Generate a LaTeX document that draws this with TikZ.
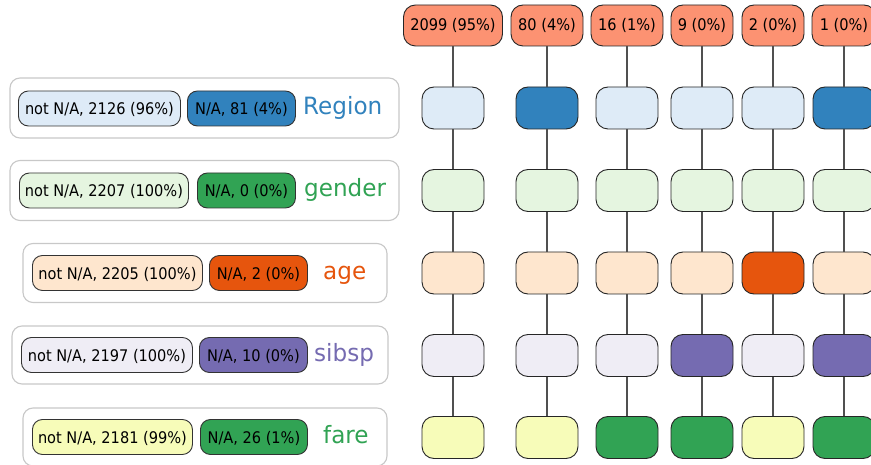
\documentclass[tikz,border=0pt]{standalone}
\usepackage{fontspec}
\setmainfont{DejaVu Sans}[FakeStretch=0.91]
\newfontfamily\labelfont{DejaVu Sans}[FakeStretch=0.97]
\definecolor{regL}{HTML}{DEEBF7}\definecolor{regD}{HTML}{3182BD}
\definecolor{genL}{HTML}{E5F5E0}\definecolor{genD}{HTML}{31A354}
\definecolor{ageL}{HTML}{FEE6CE}\definecolor{ageD}{HTML}{E6550D}
\definecolor{sibL}{HTML}{EFEDF5}\definecolor{sibD}{HTML}{756BB1}
\definecolor{farL}{HTML}{F7FCB9}\definecolor{farD}{HTML}{31A354}
\definecolor{topC}{HTML}{FC9272}
\definecolor{lineC}{HTML}{505050}
\definecolor{outerC}{HTML}{C8C8C8}
\tikzset{
  every node/.style={font=\fontsize{16}{19}\selectfont},
  outerbox/.style={draw=outerC, line width=1.1pt, rounded corners=10pt, fill=white, inner sep=0pt},
  pill/.style={draw=black!80, line width=0.9pt, rounded corners=10pt, minimum height=35pt, inner xsep=1pt, inner ysep=0pt, text height=13pt, text depth=0pt, anchor=west},
  varlabel/.style={font=\labelfont\fontsize{23.8}{28}\selectfont, inner sep=0pt, anchor=base west},
  topnode/.style={draw=black!85, line width=0.9pt, fill=topC, rounded corners=12pt, minimum height=41pt, inner xsep=1pt, inner ysep=0pt, text height=10.4pt, text depth=0pt},
  cellbox/.style={draw=black!85, line width=0.9pt, rounded corners=12pt, minimum width=62pt, minimum height=42pt, inner sep=0pt},
  conn/.style={draw=lineC, line width=1.2pt}
}
\begin{document}
\begin{tikzpicture}[x=1pt,y=-1pt]
\useasboundingbox (0,0) rectangle (871,465);
\clip (0,0) rectangle (871,465);
% ---------- left legend panels ----------
% Region
\node[outerbox, minimum width=389pt, minimum height=60pt] (oReg) at (204.5,108) {};
\node[pill, fill=regL, minimum width=162pt] (pReg1) at (18,108.5) {not N/A, 2126 (96\%)};
\node[pill, fill=regD, minimum width=108pt] (pReg2) at (187,108.5) {N/A, 81 (4\%)};
\node[varlabel, text=regD] (lReg) at (303,115) {Region};
% gender
\node[outerbox, minimum width=389pt, minimum height=60pt] (oGen) at (204.5,190.5) {};
\node[pill, fill=genL, minimum width=169pt] (pGen1) at (19,190.5) {not N/A, 2207 (100\%)};
\node[pill, fill=genD, minimum width=98pt] (pGen2) at (197,190.5) {N/A, 0 (0\%)};
\node[varlabel, text=genD] (lGen) at (304,197) {gender};
% age
\node[outerbox, minimum width=364pt, minimum height=59pt] (oAge) at (205,273) {};
\node[pill, fill=ageL, minimum width=170pt] (pAge1) at (32,273) {not N/A, 2205 (100\%)};
\node[pill, fill=ageD, minimum width=98pt] (pAge2) at (209,273) {N/A, 2 (0\%)};
\node[varlabel, text=ageD] (lAge) at (323,279.5) {age};
% sibsp
\node[outerbox, minimum width=376pt, minimum height=58pt] (oSib) at (200,355) {};
\node[pill, fill=sibL, minimum width=171pt] (pSib1) at (21,355) {not N/A, 2197 (100\%)};
\node[pill, fill=sibD, minimum width=108pt] (pSib2) at (199,355) {N/A, 10 (0\%)};
\node[varlabel, text=sibD] (lSib) at (314,361.5) {sibsp};
% fare
\node[outerbox, minimum width=364pt, minimum height=58pt] (oFar) at (205,437) {};
\node[pill, fill=farL, minimum width=160pt] (pFar1) at (32,437) {not N/A, 2181 (99\%)};
\node[pill, fill=farD, minimum width=107pt] (pFar2) at (200,437) {N/A, 26 (1\%)};
\node[varlabel, text=farD] (lFar) at (323,443.5) {fare};
% ---------- columns ----------
\node[topnode, minimum width=99pt] (t1) at (453,25.5) {2099 (95\%)};
\node[topnode, minimum width=72pt] (t2) at (547,25.5) {80 (4\%)};
\node[topnode, minimum width=72pt] (t3) at (627,25.5) {16 (1\%)};
\node[topnode, minimum width=62pt] (t4) at (702,25.5) {9 (0\%)};
\node[topnode, minimum width=62pt] (t5) at (773,25.5) {2 (0\%)};
\node[topnode, minimum width=64pt] (t6) at (844,25.5) {1 (0\%)};
% column 1
\node[cellbox, fill=regL] (r1) at (453,108) {};
\node[cellbox, fill=genL] (g1) at (453,190.5) {};
\node[cellbox, fill=ageL] (a1) at (453,273) {};
\node[cellbox, fill=sibL] (s1) at (453,355.5) {};
\node[cellbox, fill=farL] (f1) at (453,437.5) {};
% column 2
\node[cellbox, fill=regD] (r2) at (547,108) {};
\node[cellbox, fill=genL] (g2) at (547,190.5) {};
\node[cellbox, fill=ageL] (a2) at (547,273) {};
\node[cellbox, fill=sibL] (s2) at (547,355.5) {};
\node[cellbox, fill=farL] (f2) at (547,437.5) {};
% column 3
\node[cellbox, fill=regL] (r3) at (627,108) {};
\node[cellbox, fill=genL] (g3) at (627,190.5) {};
\node[cellbox, fill=ageL] (a3) at (627,273) {};
\node[cellbox, fill=sibL] (s3) at (627,355.5) {};
\node[cellbox, fill=farD] (f3) at (627,437.5) {};
% column 4
\node[cellbox, fill=regL] (r4) at (702,108) {};
\node[cellbox, fill=genL] (g4) at (702,190.5) {};
\node[cellbox, fill=ageL] (a4) at (702,273) {};
\node[cellbox, fill=sibD] (s4) at (702,355.5) {};
\node[cellbox, fill=farD] (f4) at (702,437.5) {};
% column 5
\node[cellbox, fill=regL] (r5) at (773,108) {};
\node[cellbox, fill=genL] (g5) at (773,190.5) {};
\node[cellbox, fill=ageD] (a5) at (773,273) {};
\node[cellbox, fill=sibL] (s5) at (773,355.5) {};
\node[cellbox, fill=farL] (f5) at (773,437.5) {};
% column 6
\node[cellbox, fill=regD] (r6) at (844,108) {};
\node[cellbox, fill=genL] (g6) at (844,190.5) {};
\node[cellbox, fill=ageL] (a6) at (844,273) {};
\node[cellbox, fill=sibD] (s6) at (844,355.5) {};
\node[cellbox, fill=farD] (f6) at (844,437.5) {};
% connectors
\foreach \c in {1,...,6}{
  \draw[conn] (t\c) -- (r\c);
  \draw[conn] (r\c) -- (g\c);
  \draw[conn] (g\c) -- (a\c);
  \draw[conn] (a\c) -- (s\c);
  \draw[conn] (s\c) -- (f\c);
}
\end{tikzpicture}
\end{document}
